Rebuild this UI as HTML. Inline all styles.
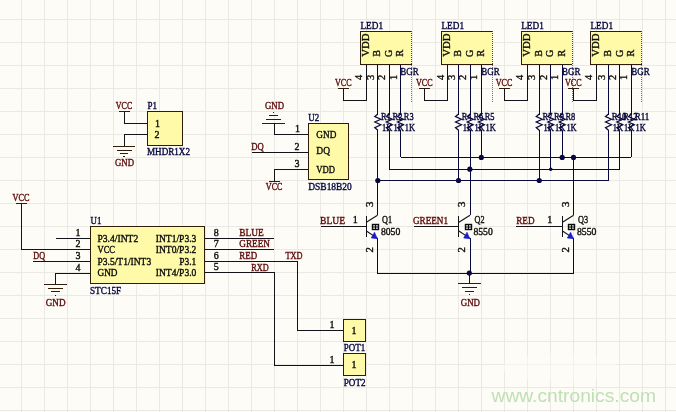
<!DOCTYPE html>
<html><head><meta charset="utf-8"><title>schematic</title>
<style>html,body{margin:0;padding:0;background:#fdfcf6;overflow:hidden}svg{display:block;will-change:transform;font-family:"Liberation Serif",serif}</style>
</head><body>
<svg width="676" height="412" viewBox="0 0 676 412">
<rect width="676" height="412" fill="#fdfcf6"/>
<g stroke="#ebe9e4" stroke-width="1">
<line x1="21.5" y1="0" x2="21.5" y2="412"/>
<line x1="44.5" y1="0" x2="44.5" y2="412"/>
<line x1="67.5" y1="0" x2="67.5" y2="412"/>
<line x1="90.5" y1="0" x2="90.5" y2="412"/>
<line x1="113.5" y1="0" x2="113.5" y2="412"/>
<line x1="136.5" y1="0" x2="136.5" y2="412"/>
<line x1="159.5" y1="0" x2="159.5" y2="412"/>
<line x1="182.5" y1="0" x2="182.5" y2="412"/>
<line x1="205.5" y1="0" x2="205.5" y2="412"/>
<line x1="228.5" y1="0" x2="228.5" y2="412"/>
<line x1="251.5" y1="0" x2="251.5" y2="412"/>
<line x1="274.5" y1="0" x2="274.5" y2="412"/>
<line x1="297.5" y1="0" x2="297.5" y2="412"/>
<line x1="320.5" y1="0" x2="320.5" y2="412"/>
<line x1="343.5" y1="0" x2="343.5" y2="412"/>
<line x1="366.5" y1="0" x2="366.5" y2="412"/>
<line x1="389.5" y1="0" x2="389.5" y2="412"/>
<line x1="412.5" y1="0" x2="412.5" y2="412"/>
<line x1="435.5" y1="0" x2="435.5" y2="412"/>
<line x1="458.5" y1="0" x2="458.5" y2="412"/>
<line x1="481.5" y1="0" x2="481.5" y2="412"/>
<line x1="504.5" y1="0" x2="504.5" y2="412"/>
<line x1="527.5" y1="0" x2="527.5" y2="412"/>
<line x1="550.5" y1="0" x2="550.5" y2="412"/>
<line x1="573.5" y1="0" x2="573.5" y2="412"/>
<line x1="596.5" y1="0" x2="596.5" y2="412"/>
<line x1="619.5" y1="0" x2="619.5" y2="412"/>
<line x1="642.5" y1="0" x2="642.5" y2="412"/>
<line x1="665.5" y1="0" x2="665.5" y2="412"/>
<line x1="0" y1="19.5" x2="676" y2="19.5"/>
<line x1="0" y1="42.5" x2="676" y2="42.5"/>
<line x1="0" y1="65.5" x2="676" y2="65.5"/>
<line x1="0" y1="88.5" x2="676" y2="88.5"/>
<line x1="0" y1="111.5" x2="676" y2="111.5"/>
<line x1="0" y1="134.5" x2="676" y2="134.5"/>
<line x1="0" y1="157.5" x2="676" y2="157.5"/>
<line x1="0" y1="180.5" x2="676" y2="180.5"/>
<line x1="0" y1="203.5" x2="676" y2="203.5"/>
<line x1="0" y1="226.5" x2="676" y2="226.5"/>
<line x1="0" y1="249.5" x2="676" y2="249.5"/>
<line x1="0" y1="272.5" x2="676" y2="272.5"/>
<line x1="0" y1="295.5" x2="676" y2="295.5"/>
<line x1="0" y1="318.5" x2="676" y2="318.5"/>
<line x1="0" y1="341.5" x2="676" y2="341.5"/>
<line x1="0" y1="364.5" x2="676" y2="364.5"/>
<line x1="0" y1="387.5" x2="676" y2="387.5"/>
<line x1="0" y1="410.5" x2="676" y2="410.5"/>
</g>
<text x="491.5" y="402.3" font-family="Liberation Sans,sans-serif" font-size="19" fill="#bfe0b4" textLength="164.5" lengthAdjust="spacingAndGlyphs">www.cntronics.com</text>
<ellipse cx="560" cy="368" rx="58" ry="15" fill="#fdfcf6" opacity="0.45"/>
<text x="115.8" y="108.8" fill="#5c0a0a" stroke="#5c0a0a" stroke-width="0.36" font-size="10" text-anchor="start" textLength="16.4" lengthAdjust="spacingAndGlyphs">VCC</text>
<line x1="119.0" y1="111.5" x2="130.0" y2="111.5" stroke="#301c08" stroke-width="1" shape-rendering="crispEdges"/>
<polyline points="124.25,111.5 124.25,123 147,123" fill="none" stroke="#12121a" stroke-width="1" shape-rendering="crispEdges"/>
<polyline points="147,134.5 124.25,134.5 124.25,146" fill="none" stroke="#12121a" stroke-width="1" shape-rendering="crispEdges"/>
<line x1="113.05" y1="146" x2="135.45" y2="146" stroke="#301c08" stroke-width="1" shape-rendering="crispEdges"/>
<line x1="116.55" y1="150.2" x2="131.95" y2="150.2" stroke="#301c08" stroke-width="1" shape-rendering="crispEdges"/>
<line x1="120.05" y1="153.4" x2="128.45" y2="153.4" stroke="#301c08" stroke-width="1" shape-rendering="crispEdges"/>
<line x1="123.35" y1="156.8" x2="125.15" y2="156.8" stroke="#301c08" stroke-width="1" shape-rendering="crispEdges"/>
<text x="115" y="166.2" fill="#5c0a0a" stroke="#5c0a0a" stroke-width="0.36" font-size="10" text-anchor="start" textLength="19" lengthAdjust="spacingAndGlyphs">GND</text>
<rect x="147" y="111" width="35" height="34.5" fill="#fefaa8" stroke="#301c08" stroke-width="1" shape-rendering="crispEdges"/>
<text x="147.5" y="108.8" fill="#08083e" stroke="#08083e" stroke-width="0.36" font-size="10" text-anchor="start" textLength="9.5" lengthAdjust="spacingAndGlyphs">P1</text>
<text x="147" y="155" fill="#08083e" stroke="#08083e" stroke-width="0.36" font-size="10" text-anchor="start" textLength="43" lengthAdjust="spacingAndGlyphs">MHDR1X2</text>
<text x="155" y="126.5" fill="#0c0c0c" stroke="#0c0c0c" stroke-width="0.36" font-size="10" text-anchor="start">1</text>
<text x="154.5" y="138.2" fill="#0c0c0c" stroke="#0c0c0c" stroke-width="0.36" font-size="10" text-anchor="start">2</text>
<text x="265" y="109.3" fill="#5c0a0a" stroke="#5c0a0a" stroke-width="0.36" font-size="10" text-anchor="start" textLength="19" lengthAdjust="spacingAndGlyphs">GND</text>
<line x1="262.3" y1="123.25" x2="284.7" y2="123.25" stroke="#301c08" stroke-width="1" shape-rendering="crispEdges"/>
<line x1="265.8" y1="119.05" x2="281.2" y2="119.05" stroke="#301c08" stroke-width="1" shape-rendering="crispEdges"/>
<line x1="269.3" y1="115.85" x2="277.7" y2="115.85" stroke="#301c08" stroke-width="1" shape-rendering="crispEdges"/>
<line x1="272.6" y1="112.45" x2="274.4" y2="112.45" stroke="#301c08" stroke-width="1" shape-rendering="crispEdges"/>
<polyline points="274.5,123.25 274.5,134.25 308.25,134.25" fill="none" stroke="#12121a" stroke-width="1" shape-rendering="crispEdges"/>
<line x1="252" y1="152.5" x2="308.25" y2="152.5" stroke="#12121a" stroke-width="1" shape-rendering="crispEdges"/>
<text x="251.3" y="150.3" fill="#5c0a0a" stroke="#5c0a0a" stroke-width="0.36" font-size="10" text-anchor="start" textLength="12.5" lengthAdjust="spacingAndGlyphs">DQ</text>
<polyline points="308.25,169.5 274.5,169.5 274.5,181.25" fill="none" stroke="#12121a" stroke-width="1" shape-rendering="crispEdges"/>
<line x1="269.0" y1="181.25" x2="280.0" y2="181.25" stroke="#301c08" stroke-width="1" shape-rendering="crispEdges"/>
<text x="265.8" y="190.2" fill="#5c0a0a" stroke="#5c0a0a" stroke-width="0.36" font-size="10" text-anchor="start" textLength="16.6" lengthAdjust="spacingAndGlyphs">VCC</text>
<rect x="308.25" y="123.25" width="40.0" height="56.25" fill="#fefaa8" stroke="#301c08" stroke-width="1" shape-rendering="crispEdges"/>
<text x="308.3" y="120.8" fill="#08083e" stroke="#08083e" stroke-width="0.36" font-size="10" text-anchor="start" textLength="11" lengthAdjust="spacingAndGlyphs">U2</text>
<text x="308.3" y="190" fill="#08083e" stroke="#08083e" stroke-width="0.36" font-size="10" text-anchor="start" textLength="43.5" lengthAdjust="spacingAndGlyphs">DSB18B20</text>
<text x="295" y="131.8" fill="#0c0c0c" stroke="#0c0c0c" stroke-width="0.36" font-size="10" text-anchor="start">1</text>
<text x="294.5" y="150" fill="#0c0c0c" stroke="#0c0c0c" stroke-width="0.36" font-size="10" text-anchor="start">2</text>
<text x="294.5" y="166.8" fill="#0c0c0c" stroke="#0c0c0c" stroke-width="0.36" font-size="10" text-anchor="start">3</text>
<text x="316.3" y="138" fill="#0c0c0c" stroke="#0c0c0c" stroke-width="0.36" font-size="10" text-anchor="start" textLength="20" lengthAdjust="spacingAndGlyphs">GND</text>
<text x="316.3" y="154.3" fill="#0c0c0c" stroke="#0c0c0c" stroke-width="0.36" font-size="10" text-anchor="start" textLength="13.7" lengthAdjust="spacingAndGlyphs">DQ</text>
<text x="316.3" y="173" fill="#0c0c0c" stroke="#0c0c0c" stroke-width="0.36" font-size="10" text-anchor="start" textLength="18.7" lengthAdjust="spacingAndGlyphs">VDD</text>
<text x="12.5" y="200.7" fill="#5c0a0a" stroke="#5c0a0a" stroke-width="0.36" font-size="10" text-anchor="start" textLength="17" lengthAdjust="spacingAndGlyphs">VCC</text>
<line x1="15.5" y1="203.5" x2="26.5" y2="203.5" stroke="#301c08" stroke-width="1" shape-rendering="crispEdges"/>
<polyline points="21.25,203.5 21.25,249.5 90.5,249.5" fill="none" stroke="#12121a" stroke-width="1" shape-rendering="crispEdges"/>
<line x1="56.25" y1="238" x2="90.5" y2="238" stroke="#12121a" stroke-width="1" shape-rendering="crispEdges"/>
<line x1="33.25" y1="261" x2="90.5" y2="261" stroke="#12121a" stroke-width="1" shape-rendering="crispEdges"/>
<text x="33.3" y="259.4" fill="#5c0a0a" stroke="#5c0a0a" stroke-width="0.36" font-size="10" text-anchor="start" textLength="11.8" lengthAdjust="spacingAndGlyphs">DQ</text>
<polyline points="90.5,273.5 55.5,273.5 55.5,284.5" fill="none" stroke="#12121a" stroke-width="1" shape-rendering="crispEdges"/>
<line x1="44.3" y1="284.5" x2="66.7" y2="284.5" stroke="#301c08" stroke-width="1" shape-rendering="crispEdges"/>
<line x1="47.8" y1="288.7" x2="63.2" y2="288.7" stroke="#301c08" stroke-width="1" shape-rendering="crispEdges"/>
<line x1="51.3" y1="291.9" x2="59.7" y2="291.9" stroke="#301c08" stroke-width="1" shape-rendering="crispEdges"/>
<line x1="54.6" y1="295.3" x2="56.4" y2="295.3" stroke="#301c08" stroke-width="1" shape-rendering="crispEdges"/>
<text x="45.8" y="305.5" fill="#5c0a0a" stroke="#5c0a0a" stroke-width="0.36" font-size="10" text-anchor="start" textLength="19.7" lengthAdjust="spacingAndGlyphs">GND</text>
<rect x="90.5" y="226.5" width="114.0" height="57.0" fill="#fefaa8" stroke="#301c08" stroke-width="1" shape-rendering="crispEdges"/>
<text x="90.5" y="223.7" fill="#08083e" stroke="#08083e" stroke-width="0.36" font-size="10" text-anchor="start" textLength="10.8" lengthAdjust="spacingAndGlyphs">U1</text>
<text x="90" y="294.2" fill="#08083e" stroke="#08083e" stroke-width="0.36" font-size="10" text-anchor="start" textLength="31.2" lengthAdjust="spacingAndGlyphs">STC15F</text>
<text x="75.5" y="235.7" fill="#0c0c0c" stroke="#0c0c0c" stroke-width="0.36" font-size="10" text-anchor="start">1</text>
<text x="75.5" y="247.1" fill="#0c0c0c" stroke="#0c0c0c" stroke-width="0.36" font-size="10" text-anchor="start">2</text>
<text x="75.5" y="259" fill="#0c0c0c" stroke="#0c0c0c" stroke-width="0.36" font-size="10" text-anchor="start">3</text>
<text x="75.5" y="270.7" fill="#0c0c0c" stroke="#0c0c0c" stroke-width="0.36" font-size="10" text-anchor="start">4</text>
<text x="97.5" y="242" fill="#0c0c0c" stroke="#0c0c0c" stroke-width="0.36" font-size="10" text-anchor="start" textLength="40.7" lengthAdjust="spacingAndGlyphs">P3.4/INT2</text>
<text x="97.5" y="253.1" fill="#0c0c0c" stroke="#0c0c0c" stroke-width="0.36" font-size="10" text-anchor="start" textLength="17.5" lengthAdjust="spacingAndGlyphs">VCC</text>
<text x="97.5" y="265" fill="#0c0c0c" stroke="#0c0c0c" stroke-width="0.36" font-size="10" text-anchor="start" textLength="53.7" lengthAdjust="spacingAndGlyphs">P3.5/T1/INT3</text>
<text x="97.5" y="276.2" fill="#0c0c0c" stroke="#0c0c0c" stroke-width="0.36" font-size="10" text-anchor="start" textLength="20" lengthAdjust="spacingAndGlyphs">GND</text>
<text x="155.8" y="242" fill="#0c0c0c" stroke="#0c0c0c" stroke-width="0.36" font-size="10" text-anchor="start" textLength="40.5" lengthAdjust="spacingAndGlyphs">INT1/P3.3</text>
<text x="155.8" y="253.2" fill="#0c0c0c" stroke="#0c0c0c" stroke-width="0.36" font-size="10" text-anchor="start" textLength="40.5" lengthAdjust="spacingAndGlyphs">INT0/P3.2</text>
<text x="179.3" y="265" fill="#0c0c0c" stroke="#0c0c0c" stroke-width="0.36" font-size="10" text-anchor="start" textLength="17" lengthAdjust="spacingAndGlyphs">P3.1</text>
<text x="155.8" y="276.2" fill="#0c0c0c" stroke="#0c0c0c" stroke-width="0.36" font-size="10" text-anchor="start" textLength="40.5" lengthAdjust="spacingAndGlyphs">INT4/P3.0</text>
<line x1="204.5" y1="238.6" x2="273.75" y2="238.6" stroke="#12121a" stroke-width="1" shape-rendering="crispEdges"/>
<line x1="204.5" y1="249.4" x2="273.75" y2="249.4" stroke="#12121a" stroke-width="1" shape-rendering="crispEdges"/>
<polyline points="204.5,261 297.5,261 297.5,330.2 343.75,330.2" fill="none" stroke="#12121a" stroke-width="1" shape-rendering="crispEdges"/>
<polyline points="204.5,272.7 274.8,272.7 274.8,365.3 343.75,365.3" fill="none" stroke="#12121a" stroke-width="1" shape-rendering="crispEdges"/>
<text x="213.7" y="235.8" fill="#0c0c0c" stroke="#0c0c0c" stroke-width="0.36" font-size="10" text-anchor="start">8</text>
<text x="213.7" y="247.2" fill="#0c0c0c" stroke="#0c0c0c" stroke-width="0.36" font-size="10" text-anchor="start">7</text>
<text x="213.7" y="258.7" fill="#0c0c0c" stroke="#0c0c0c" stroke-width="0.36" font-size="10" text-anchor="start">6</text>
<text x="213.7" y="270.3" fill="#0c0c0c" stroke="#0c0c0c" stroke-width="0.36" font-size="10" text-anchor="start">5</text>
<text x="239.3" y="236" fill="#5c0a0a" stroke="#5c0a0a" stroke-width="0.36" font-size="10" text-anchor="start" textLength="24.5" lengthAdjust="spacingAndGlyphs">BLUE</text>
<text x="239.3" y="247.3" fill="#5c0a0a" stroke="#5c0a0a" stroke-width="0.36" font-size="10" text-anchor="start" textLength="30.7" lengthAdjust="spacingAndGlyphs">GREEN</text>
<text x="239.3" y="258.8" fill="#5c0a0a" stroke="#5c0a0a" stroke-width="0.36" font-size="10" text-anchor="start" textLength="17.8" lengthAdjust="spacingAndGlyphs">RED</text>
<text x="251.3" y="270.7" fill="#5c0a0a" stroke="#5c0a0a" stroke-width="0.36" font-size="10" text-anchor="start" textLength="17.5" lengthAdjust="spacingAndGlyphs">RXD</text>
<text x="285.5" y="259.2" fill="#5c0a0a" stroke="#5c0a0a" stroke-width="0.36" font-size="10" text-anchor="start" textLength="17" lengthAdjust="spacingAndGlyphs">TXD</text>
<rect x="343.75" y="319.5" width="22.0" height="22.0" fill="#fefaa8" stroke="#301c08" stroke-width="1" shape-rendering="crispEdges"/>
<rect x="343.75" y="353.5" width="22.0" height="21.75" fill="#fefaa8" stroke="#301c08" stroke-width="1" shape-rendering="crispEdges"/>
<text x="351.5" y="333.7" fill="#0c0c0c" stroke="#0c0c0c" stroke-width="0.36" font-size="10" text-anchor="start">1</text>
<text x="351.5" y="368.2" fill="#0c0c0c" stroke="#0c0c0c" stroke-width="0.36" font-size="10" text-anchor="start">1</text>
<text x="329.5" y="327.5" fill="#0c0c0c" stroke="#0c0c0c" stroke-width="0.36" font-size="10" text-anchor="start">1</text>
<text x="329.5" y="362.7" fill="#0c0c0c" stroke="#0c0c0c" stroke-width="0.36" font-size="10" text-anchor="start">1</text>
<text x="343.8" y="351" fill="#08083e" stroke="#08083e" stroke-width="0.36" font-size="10" text-anchor="start" textLength="21.3" lengthAdjust="spacingAndGlyphs">POT1</text>
<text x="343.8" y="386" fill="#08083e" stroke="#08083e" stroke-width="0.36" font-size="10" text-anchor="start" textLength="21.8" lengthAdjust="spacingAndGlyphs">POT2</text>
<line x1="377.8" y1="64.5" x2="377.8" y2="114.5" stroke="#08083e" stroke-width="1" shape-rendering="crispEdges"/>
<polyline points="377.8,114 374.8,116.5 380.8,119.2 374.8,122 380.8,124.8 374.8,127.6 377.8,130.3" fill="none" stroke="#08083e" stroke-width="1.25"/>
<line x1="377.8" y1="130" x2="377.8" y2="180.5" stroke="#08083e" stroke-width="1" shape-rendering="crispEdges"/>
<line x1="389.3" y1="64.5" x2="389.3" y2="114.5" stroke="#08083e" stroke-width="1" shape-rendering="crispEdges"/>
<polyline points="389.3,114 386.3,116.5 392.3,119.2 386.3,122 392.3,124.8 386.3,127.6 389.3,130.3" fill="none" stroke="#08083e" stroke-width="1.25"/>
<line x1="389.3" y1="130" x2="389.3" y2="169.2" stroke="#08083e" stroke-width="1" shape-rendering="crispEdges"/>
<line x1="400.5" y1="64.5" x2="400.5" y2="114.5" stroke="#08083e" stroke-width="1" shape-rendering="crispEdges"/>
<polyline points="400.5,114 397.5,116.5 403.5,119.2 397.5,122 403.5,124.8 397.5,127.6 400.5,130.3" fill="none" stroke="#08083e" stroke-width="1.25"/>
<line x1="400.5" y1="130" x2="400.5" y2="157.4" stroke="#08083e" stroke-width="1" shape-rendering="crispEdges"/>
<polyline points="366.2,64.5 366.2,100.2 343.5,100.2 343.5,88.6" fill="none" stroke="#12121a" stroke-width="1" shape-rendering="crispEdges"/>
<line x1="338.0" y1="88.6" x2="349.0" y2="88.6" stroke="#301c08" stroke-width="1" shape-rendering="crispEdges"/>
<text x="335.0" y="85.7" fill="#5c0a0a" stroke="#5c0a0a" stroke-width="0.36" font-size="10" text-anchor="start" textLength="16.6" lengthAdjust="spacingAndGlyphs">VCC</text>
<line x1="411.5" y1="31" x2="411.5" y2="103" stroke="#b0602c" stroke-width="1" stroke-dasharray="1,1" shape-rendering="crispEdges"/>
<rect x="360.5" y="31.5" width="51" height="33" fill="#fefaa8"/>
<polyline points="411.5,31.5 360.5,31.5 360.5,64.5 411.5,64.5" fill="none" stroke="#301c08" stroke-width="1" shape-rendering="crispEdges"/>
<line x1="411.5" y1="31" x2="411.5" y2="65" stroke="#7a3c10" stroke-width="1" stroke-dasharray="1,1" shape-rendering="crispEdges"/>
<text x="360.5" y="28.7" fill="#08083e" stroke="#08083e" stroke-width="0.36" font-size="10" text-anchor="start" textLength="22.5" lengthAdjust="spacingAndGlyphs">LED1</text>
<text transform="translate(369.0,56.8) rotate(-90)" fill="#0c0c0c" stroke="#0c0c0c" stroke-width="0.36" font-size="11.2" textLength="23.3" lengthAdjust="spacingAndGlyphs">VDD</text>
<text transform="translate(380.1,56.8) rotate(-90)" fill="#0c0c0c" stroke="#0c0c0c" stroke-width="0.36" font-size="11.2" textLength="6.8" lengthAdjust="spacingAndGlyphs">B</text>
<text transform="translate(392.0,57) rotate(-90)" fill="#0c0c0c" stroke="#0c0c0c" stroke-width="0.36" font-size="11.2" textLength="7.2" lengthAdjust="spacingAndGlyphs">G</text>
<text transform="translate(403.0,56.8) rotate(-90)" fill="#0c0c0c" stroke="#0c0c0c" stroke-width="0.36" font-size="11.2" textLength="7" lengthAdjust="spacingAndGlyphs">R</text>
<text transform="translate(362.2,80) rotate(-90)" fill="#0c0c0c" stroke="#0c0c0c" stroke-width="0.36" font-size="11" textLength="5.2" lengthAdjust="spacingAndGlyphs">4</text>
<text transform="translate(373.8,80) rotate(-90)" fill="#0c0c0c" stroke="#0c0c0c" stroke-width="0.36" font-size="11" textLength="5.2" lengthAdjust="spacingAndGlyphs">3</text>
<text transform="translate(385.3,80) rotate(-90)" fill="#0c0c0c" stroke="#0c0c0c" stroke-width="0.36" font-size="11" textLength="5.2" lengthAdjust="spacingAndGlyphs">2</text>
<text transform="translate(396.5,80) rotate(-90)" fill="#0c0c0c" stroke="#0c0c0c" stroke-width="0.36" font-size="11" textLength="5.2" lengthAdjust="spacingAndGlyphs">1</text>
<text x="400.3" y="74.8" fill="#08083e" stroke="#08083e" stroke-width="0.36" font-size="10" text-anchor="start" textLength="18.5" lengthAdjust="spacingAndGlyphs">BGR</text>
<text x="381.1" y="120" fill="#08083e" stroke="#08083e" stroke-width="0.4" font-size="10.5" text-anchor="start" textLength="9.8" lengthAdjust="spacingAndGlyphs">R1</text>
<text x="382.0" y="131" fill="#08083e" stroke="#08083e" stroke-width="0.4" font-size="10.5" text-anchor="start" textLength="10.3" lengthAdjust="spacingAndGlyphs">1K</text>
<text x="392.6" y="120" fill="#08083e" stroke="#08083e" stroke-width="0.4" font-size="10.5" text-anchor="start" textLength="9.8" lengthAdjust="spacingAndGlyphs">R2</text>
<text x="393.5" y="131" fill="#08083e" stroke="#08083e" stroke-width="0.4" font-size="10.5" text-anchor="start" textLength="10.3" lengthAdjust="spacingAndGlyphs">1K</text>
<text x="403.8" y="120" fill="#08083e" stroke="#08083e" stroke-width="0.4" font-size="10.5" text-anchor="start" textLength="9.8" lengthAdjust="spacingAndGlyphs">R3</text>
<text x="404.7" y="131" fill="#08083e" stroke="#08083e" stroke-width="0.4" font-size="10.5" text-anchor="start" textLength="10.3" lengthAdjust="spacingAndGlyphs">1K</text>
<line x1="458.5" y1="64.5" x2="458.5" y2="114.5" stroke="#08083e" stroke-width="1" shape-rendering="crispEdges"/>
<polyline points="458.5,114 455.5,116.5 461.5,119.2 455.5,122 461.5,124.8 455.5,127.6 458.5,130.3" fill="none" stroke="#08083e" stroke-width="1.25"/>
<line x1="458.5" y1="130" x2="458.5" y2="180.5" stroke="#08083e" stroke-width="1" shape-rendering="crispEdges"/>
<line x1="470.2" y1="64.5" x2="470.2" y2="114.5" stroke="#08083e" stroke-width="1" shape-rendering="crispEdges"/>
<polyline points="470.2,114 467.2,116.5 473.2,119.2 467.2,122 473.2,124.8 467.2,127.6 470.2,130.3" fill="none" stroke="#08083e" stroke-width="1.25"/>
<line x1="470.2" y1="130" x2="470.2" y2="169.2" stroke="#08083e" stroke-width="1" shape-rendering="crispEdges"/>
<line x1="481.4" y1="64.5" x2="481.4" y2="114.5" stroke="#08083e" stroke-width="1" shape-rendering="crispEdges"/>
<polyline points="481.4,114 478.4,116.5 484.4,119.2 478.4,122 484.4,124.8 478.4,127.6 481.4,130.3" fill="none" stroke="#08083e" stroke-width="1.25"/>
<line x1="481.4" y1="130" x2="481.4" y2="157.4" stroke="#08083e" stroke-width="1" shape-rendering="crispEdges"/>
<polyline points="447.5,64.5 447.5,100.2 424.5,100.2 424.5,88.6" fill="none" stroke="#12121a" stroke-width="1" shape-rendering="crispEdges"/>
<line x1="419.0" y1="88.6" x2="430.0" y2="88.6" stroke="#301c08" stroke-width="1" shape-rendering="crispEdges"/>
<text x="416.0" y="85.7" fill="#5c0a0a" stroke="#5c0a0a" stroke-width="0.36" font-size="10" text-anchor="start" textLength="16.6" lengthAdjust="spacingAndGlyphs">VCC</text>
<line x1="492.5" y1="31" x2="492.5" y2="103" stroke="#b0602c" stroke-width="1" stroke-dasharray="1,1" shape-rendering="crispEdges"/>
<rect x="441.5" y="31.5" width="51" height="33" fill="#fefaa8"/>
<polyline points="492.5,31.5 441.5,31.5 441.5,64.5 492.5,64.5" fill="none" stroke="#301c08" stroke-width="1" shape-rendering="crispEdges"/>
<line x1="492.5" y1="31" x2="492.5" y2="65" stroke="#7a3c10" stroke-width="1" stroke-dasharray="1,1" shape-rendering="crispEdges"/>
<text x="441.5" y="28.7" fill="#08083e" stroke="#08083e" stroke-width="0.36" font-size="10" text-anchor="start" textLength="22.5" lengthAdjust="spacingAndGlyphs">LED1</text>
<text transform="translate(450.3,56.8) rotate(-90)" fill="#0c0c0c" stroke="#0c0c0c" stroke-width="0.36" font-size="11.2" textLength="23.3" lengthAdjust="spacingAndGlyphs">VDD</text>
<text transform="translate(460.8,56.8) rotate(-90)" fill="#0c0c0c" stroke="#0c0c0c" stroke-width="0.36" font-size="11.2" textLength="6.8" lengthAdjust="spacingAndGlyphs">B</text>
<text transform="translate(472.9,57) rotate(-90)" fill="#0c0c0c" stroke="#0c0c0c" stroke-width="0.36" font-size="11.2" textLength="7.2" lengthAdjust="spacingAndGlyphs">G</text>
<text transform="translate(483.9,56.8) rotate(-90)" fill="#0c0c0c" stroke="#0c0c0c" stroke-width="0.36" font-size="11.2" textLength="7" lengthAdjust="spacingAndGlyphs">R</text>
<text transform="translate(443.5,80) rotate(-90)" fill="#0c0c0c" stroke="#0c0c0c" stroke-width="0.36" font-size="11" textLength="5.2" lengthAdjust="spacingAndGlyphs">4</text>
<text transform="translate(454.5,80) rotate(-90)" fill="#0c0c0c" stroke="#0c0c0c" stroke-width="0.36" font-size="11" textLength="5.2" lengthAdjust="spacingAndGlyphs">3</text>
<text transform="translate(466.2,80) rotate(-90)" fill="#0c0c0c" stroke="#0c0c0c" stroke-width="0.36" font-size="11" textLength="5.2" lengthAdjust="spacingAndGlyphs">2</text>
<text transform="translate(477.4,80) rotate(-90)" fill="#0c0c0c" stroke="#0c0c0c" stroke-width="0.36" font-size="11" textLength="5.2" lengthAdjust="spacingAndGlyphs">1</text>
<text x="481.2" y="74.8" fill="#08083e" stroke="#08083e" stroke-width="0.36" font-size="10" text-anchor="start" textLength="18.5" lengthAdjust="spacingAndGlyphs">BGR</text>
<text x="461.8" y="120" fill="#08083e" stroke="#08083e" stroke-width="0.4" font-size="10.5" text-anchor="start" textLength="9.8" lengthAdjust="spacingAndGlyphs">R4</text>
<text x="462.7" y="131" fill="#08083e" stroke="#08083e" stroke-width="0.4" font-size="10.5" text-anchor="start" textLength="10.3" lengthAdjust="spacingAndGlyphs">1K</text>
<text x="473.5" y="120" fill="#08083e" stroke="#08083e" stroke-width="0.4" font-size="10.5" text-anchor="start" textLength="9.8" lengthAdjust="spacingAndGlyphs">R6</text>
<text x="474.4" y="131" fill="#08083e" stroke="#08083e" stroke-width="0.4" font-size="10.5" text-anchor="start" textLength="10.3" lengthAdjust="spacingAndGlyphs">1K</text>
<text x="484.7" y="120" fill="#08083e" stroke="#08083e" stroke-width="0.4" font-size="10.5" text-anchor="start" textLength="9.8" lengthAdjust="spacingAndGlyphs">R5</text>
<text x="485.59999999999997" y="131" fill="#08083e" stroke="#08083e" stroke-width="0.4" font-size="10.5" text-anchor="start" textLength="10.3" lengthAdjust="spacingAndGlyphs">1K</text>
<line x1="539.25" y1="64.5" x2="539.25" y2="114.5" stroke="#08083e" stroke-width="1" shape-rendering="crispEdges"/>
<polyline points="539.25,114 536.25,116.5 542.25,119.2 536.25,122 542.25,124.8 536.25,127.6 539.25,130.3" fill="none" stroke="#08083e" stroke-width="1.25"/>
<line x1="539.25" y1="130" x2="539.25" y2="180.5" stroke="#08083e" stroke-width="1" shape-rendering="crispEdges"/>
<line x1="550.75" y1="64.5" x2="550.75" y2="114.5" stroke="#08083e" stroke-width="1" shape-rendering="crispEdges"/>
<polyline points="550.75,114 547.75,116.5 553.75,119.2 547.75,122 553.75,124.8 547.75,127.6 550.75,130.3" fill="none" stroke="#08083e" stroke-width="1.25"/>
<line x1="550.75" y1="130" x2="550.75" y2="169.2" stroke="#08083e" stroke-width="1" shape-rendering="crispEdges"/>
<line x1="562.2" y1="64.5" x2="562.2" y2="114.5" stroke="#08083e" stroke-width="1" shape-rendering="crispEdges"/>
<polyline points="562.2,114 559.2,116.5 565.2,119.2 559.2,122 565.2,124.8 559.2,127.6 562.2,130.3" fill="none" stroke="#08083e" stroke-width="1.25"/>
<line x1="562.2" y1="130" x2="562.2" y2="157.4" stroke="#08083e" stroke-width="1" shape-rendering="crispEdges"/>
<polyline points="527,64.5 527,100.2 504.25,100.2 504.25,88.6" fill="none" stroke="#12121a" stroke-width="1" shape-rendering="crispEdges"/>
<line x1="498.75" y1="88.6" x2="509.75" y2="88.6" stroke="#301c08" stroke-width="1" shape-rendering="crispEdges"/>
<text x="495.75" y="85.7" fill="#5c0a0a" stroke="#5c0a0a" stroke-width="0.36" font-size="10" text-anchor="start" textLength="16.6" lengthAdjust="spacingAndGlyphs">VCC</text>
<line x1="572.5" y1="31" x2="572.5" y2="103" stroke="#b0602c" stroke-width="1" stroke-dasharray="1,1" shape-rendering="crispEdges"/>
<rect x="521.25" y="31.5" width="51" height="33" fill="#fefaa8"/>
<polyline points="572.25,31.5 521.25,31.5 521.25,64.5 572.25,64.5" fill="none" stroke="#301c08" stroke-width="1" shape-rendering="crispEdges"/>
<line x1="572.5" y1="31" x2="572.5" y2="65" stroke="#7a3c10" stroke-width="1" stroke-dasharray="1,1" shape-rendering="crispEdges"/>
<text x="521.25" y="28.7" fill="#08083e" stroke="#08083e" stroke-width="0.36" font-size="10" text-anchor="start" textLength="22.5" lengthAdjust="spacingAndGlyphs">LED1</text>
<text transform="translate(529.8,56.8) rotate(-90)" fill="#0c0c0c" stroke="#0c0c0c" stroke-width="0.36" font-size="11.2" textLength="23.3" lengthAdjust="spacingAndGlyphs">VDD</text>
<text transform="translate(541.55,56.8) rotate(-90)" fill="#0c0c0c" stroke="#0c0c0c" stroke-width="0.36" font-size="11.2" textLength="6.8" lengthAdjust="spacingAndGlyphs">B</text>
<text transform="translate(553.45,57) rotate(-90)" fill="#0c0c0c" stroke="#0c0c0c" stroke-width="0.36" font-size="11.2" textLength="7.2" lengthAdjust="spacingAndGlyphs">G</text>
<text transform="translate(564.7,56.8) rotate(-90)" fill="#0c0c0c" stroke="#0c0c0c" stroke-width="0.36" font-size="11.2" textLength="7" lengthAdjust="spacingAndGlyphs">R</text>
<text transform="translate(523,80) rotate(-90)" fill="#0c0c0c" stroke="#0c0c0c" stroke-width="0.36" font-size="11" textLength="5.2" lengthAdjust="spacingAndGlyphs">4</text>
<text transform="translate(535.25,80) rotate(-90)" fill="#0c0c0c" stroke="#0c0c0c" stroke-width="0.36" font-size="11" textLength="5.2" lengthAdjust="spacingAndGlyphs">3</text>
<text transform="translate(546.75,80) rotate(-90)" fill="#0c0c0c" stroke="#0c0c0c" stroke-width="0.36" font-size="11" textLength="5.2" lengthAdjust="spacingAndGlyphs">2</text>
<text transform="translate(558.2,80) rotate(-90)" fill="#0c0c0c" stroke="#0c0c0c" stroke-width="0.36" font-size="11" textLength="5.2" lengthAdjust="spacingAndGlyphs">1</text>
<text x="562.0" y="74.8" fill="#08083e" stroke="#08083e" stroke-width="0.36" font-size="10" text-anchor="start" textLength="18.5" lengthAdjust="spacingAndGlyphs">BGR</text>
<text x="542.55" y="120" fill="#08083e" stroke="#08083e" stroke-width="0.4" font-size="10.5" text-anchor="start" textLength="9.8" lengthAdjust="spacingAndGlyphs">R7</text>
<text x="543.45" y="131" fill="#08083e" stroke="#08083e" stroke-width="0.4" font-size="10.5" text-anchor="start" textLength="10.3" lengthAdjust="spacingAndGlyphs">1K</text>
<text x="554.05" y="120" fill="#08083e" stroke="#08083e" stroke-width="0.4" font-size="10.5" text-anchor="start" textLength="9.8" lengthAdjust="spacingAndGlyphs">R9</text>
<text x="554.95" y="131" fill="#08083e" stroke="#08083e" stroke-width="0.4" font-size="10.5" text-anchor="start" textLength="10.3" lengthAdjust="spacingAndGlyphs">1K</text>
<text x="565.5" y="120" fill="#08083e" stroke="#08083e" stroke-width="0.4" font-size="10.5" text-anchor="start" textLength="9.8" lengthAdjust="spacingAndGlyphs">R8</text>
<text x="566.4000000000001" y="131" fill="#08083e" stroke="#08083e" stroke-width="0.4" font-size="10.5" text-anchor="start" textLength="10.3" lengthAdjust="spacingAndGlyphs">1K</text>
<line x1="608.5" y1="64.5" x2="608.5" y2="114.5" stroke="#08083e" stroke-width="1" shape-rendering="crispEdges"/>
<polyline points="608.5,114 605.5,116.5 611.5,119.2 605.5,122 611.5,124.8 605.5,127.6 608.5,130.3" fill="none" stroke="#08083e" stroke-width="1.25"/>
<line x1="608.5" y1="130" x2="608.5" y2="180.5" stroke="#08083e" stroke-width="1" shape-rendering="crispEdges"/>
<line x1="619.8" y1="64.5" x2="619.8" y2="114.5" stroke="#08083e" stroke-width="1" shape-rendering="crispEdges"/>
<polyline points="619.8,114 616.8,116.5 622.8,119.2 616.8,122 622.8,124.8 616.8,127.6 619.8,130.3" fill="none" stroke="#08083e" stroke-width="1.25"/>
<line x1="619.8" y1="130" x2="619.8" y2="169.2" stroke="#08083e" stroke-width="1" shape-rendering="crispEdges"/>
<line x1="631.4" y1="64.5" x2="631.4" y2="114.5" stroke="#08083e" stroke-width="1" shape-rendering="crispEdges"/>
<polyline points="631.4,114 628.4,116.5 634.4,119.2 628.4,122 634.4,124.8 628.4,127.6 631.4,130.3" fill="none" stroke="#08083e" stroke-width="1.25"/>
<line x1="631.4" y1="130" x2="631.4" y2="157.4" stroke="#08083e" stroke-width="1" shape-rendering="crispEdges"/>
<polyline points="596.25,64.5 596.25,100.2 573.5,100.2 573.5,88.6" fill="none" stroke="#12121a" stroke-width="1" shape-rendering="crispEdges"/>
<line x1="568.0" y1="88.6" x2="579.0" y2="88.6" stroke="#301c08" stroke-width="1" shape-rendering="crispEdges"/>
<text x="565.0" y="85.7" fill="#5c0a0a" stroke="#5c0a0a" stroke-width="0.36" font-size="10" text-anchor="start" textLength="16.6" lengthAdjust="spacingAndGlyphs">VCC</text>
<line x1="641.5" y1="31" x2="641.5" y2="103" stroke="#b0602c" stroke-width="1" stroke-dasharray="1,1" shape-rendering="crispEdges"/>
<rect x="590.5" y="31.5" width="51" height="33" fill="#fefaa8"/>
<polyline points="641.5,31.5 590.5,31.5 590.5,64.5 641.5,64.5" fill="none" stroke="#301c08" stroke-width="1" shape-rendering="crispEdges"/>
<line x1="641.5" y1="31" x2="641.5" y2="65" stroke="#7a3c10" stroke-width="1" stroke-dasharray="1,1" shape-rendering="crispEdges"/>
<text x="590.5" y="28.7" fill="#08083e" stroke="#08083e" stroke-width="0.36" font-size="10" text-anchor="start" textLength="22.5" lengthAdjust="spacingAndGlyphs">LED1</text>
<text transform="translate(599.05,56.8) rotate(-90)" fill="#0c0c0c" stroke="#0c0c0c" stroke-width="0.36" font-size="11.2" textLength="23.3" lengthAdjust="spacingAndGlyphs">VDD</text>
<text transform="translate(610.8,56.8) rotate(-90)" fill="#0c0c0c" stroke="#0c0c0c" stroke-width="0.36" font-size="11.2" textLength="6.8" lengthAdjust="spacingAndGlyphs">B</text>
<text transform="translate(622.5,57) rotate(-90)" fill="#0c0c0c" stroke="#0c0c0c" stroke-width="0.36" font-size="11.2" textLength="7.2" lengthAdjust="spacingAndGlyphs">G</text>
<text transform="translate(633.9,56.8) rotate(-90)" fill="#0c0c0c" stroke="#0c0c0c" stroke-width="0.36" font-size="11.2" textLength="7" lengthAdjust="spacingAndGlyphs">R</text>
<text transform="translate(592.25,80) rotate(-90)" fill="#0c0c0c" stroke="#0c0c0c" stroke-width="0.36" font-size="11" textLength="5.2" lengthAdjust="spacingAndGlyphs">4</text>
<text transform="translate(604.5,80) rotate(-90)" fill="#0c0c0c" stroke="#0c0c0c" stroke-width="0.36" font-size="11" textLength="5.2" lengthAdjust="spacingAndGlyphs">3</text>
<text transform="translate(615.8,80) rotate(-90)" fill="#0c0c0c" stroke="#0c0c0c" stroke-width="0.36" font-size="11" textLength="5.2" lengthAdjust="spacingAndGlyphs">2</text>
<text transform="translate(627.4,80) rotate(-90)" fill="#0c0c0c" stroke="#0c0c0c" stroke-width="0.36" font-size="11" textLength="5.2" lengthAdjust="spacingAndGlyphs">1</text>
<text x="631.1999999999999" y="74.8" fill="#08083e" stroke="#08083e" stroke-width="0.36" font-size="10" text-anchor="start" textLength="18.5" lengthAdjust="spacingAndGlyphs">BGR</text>
<text x="611.8" y="120" fill="#08083e" stroke="#08083e" stroke-width="0.4" font-size="10.5" text-anchor="start" textLength="14.6" lengthAdjust="spacingAndGlyphs">R10</text>
<text x="612.7" y="131" fill="#08083e" stroke="#08083e" stroke-width="0.4" font-size="10.5" text-anchor="start" textLength="10.3" lengthAdjust="spacingAndGlyphs">1K</text>
<text x="623.0999999999999" y="120" fill="#08083e" stroke="#08083e" stroke-width="0.4" font-size="10.5" text-anchor="start" textLength="14.6" lengthAdjust="spacingAndGlyphs">R12</text>
<text x="624.0" y="131" fill="#08083e" stroke="#08083e" stroke-width="0.4" font-size="10.5" text-anchor="start" textLength="10.3" lengthAdjust="spacingAndGlyphs">1K</text>
<text x="634.6999999999999" y="120" fill="#08083e" stroke="#08083e" stroke-width="0.4" font-size="10.5" text-anchor="start" textLength="14.6" lengthAdjust="spacingAndGlyphs">R11</text>
<text x="635.6" y="131" fill="#08083e" stroke="#08083e" stroke-width="0.4" font-size="10.5" text-anchor="start" textLength="10.3" lengthAdjust="spacingAndGlyphs">1K</text>
<line x1="400.5" y1="157.4" x2="631.4" y2="157.4" stroke="#08083e" stroke-width="1" shape-rendering="crispEdges"/>
<line x1="389.3" y1="169.2" x2="619.8" y2="169.2" stroke="#08083e" stroke-width="1" shape-rendering="crispEdges"/>
<line x1="377.8" y1="180.5" x2="608.5" y2="180.5" stroke="#08083e" stroke-width="1" shape-rendering="crispEdges"/>
<circle cx="481.3" cy="157.4" r="2.6" fill="#08083e"/>
<circle cx="562.2" cy="157.4" r="2.6" fill="#08083e"/>
<circle cx="573.5" cy="157.4" r="2.6" fill="#08083e"/>
<circle cx="469.8" cy="169.2" r="2.6" fill="#08083e"/>
<circle cx="377.8" cy="180.5" r="2.6" fill="#08083e"/>
<circle cx="458.5" cy="180.5" r="2.6" fill="#08083e"/>
<circle cx="539.25" cy="180.5" r="2.6" fill="#08083e"/>
<circle cx="550.75" cy="169.2" r="1.8" fill="#08083e"/>
<line x1="377.5" y1="180.5" x2="377.5" y2="215.3" stroke="#08083e" stroke-width="1" shape-rendering="crispEdges"/>
<line x1="377.5" y1="215.3" x2="366.4" y2="222.2" stroke="#12121a" stroke-width="1.1"/>
<line x1="366.4" y1="215.6" x2="366.4" y2="236.8" stroke="#12121a" stroke-width="1" shape-rendering="crispEdges"/>
<line x1="321" y1="226.4" x2="366.4" y2="226.4" stroke="#12121a" stroke-width="1" shape-rendering="crispEdges"/>
<line x1="366.4" y1="231" x2="377.5" y2="238.4" stroke="#12121a" stroke-width="1.1"/>
<line x1="377.5" y1="238" x2="377.5" y2="273" stroke="#08083e" stroke-width="1" shape-rendering="crispEdges"/>
<polygon points="377.3,238.7 371.2,238.0 374.5,232.2" fill="#1a1ad0" stroke="#1a1ad0" stroke-width="0.6" stroke-linejoin="round"/>
<rect x="372.5" y="224.5" width="6" height="5" fill="none" stroke="#0c0c0c" stroke-width="1.4"/>
<path d="M372.5 227H378.5M375.5 224.5V229.5" stroke="#0c0c0c" stroke-width="1.2" fill="none"/>
<text x="382.0" y="223" fill="#0c0c0c" stroke="#0c0c0c" stroke-width="0.36" font-size="10" text-anchor="start" textLength="10" lengthAdjust="spacingAndGlyphs">Q1</text>
<text x="380.9" y="234.5" fill="#0c0c0c" stroke="#0c0c0c" stroke-width="0.36" font-size="10" text-anchor="start" textLength="19.4" lengthAdjust="spacingAndGlyphs">8050</text>
<text x="320" y="223.6" fill="#5c0a0a" stroke="#5c0a0a" stroke-width="0.36" font-size="10" text-anchor="start" textLength="25" lengthAdjust="spacingAndGlyphs">BLUE</text>
<text x="352.7" y="223.4" fill="#0c0c0c" stroke="#0c0c0c" stroke-width="0.36" font-size="10" text-anchor="start">1</text>
<text transform="translate(372.9,207) rotate(-90)" fill="#0c0c0c" stroke="#0c0c0c" stroke-width="0.36" font-size="11" textLength="5.4" lengthAdjust="spacingAndGlyphs">3</text>
<text transform="translate(372.9,252.6) rotate(-90)" fill="#0c0c0c" stroke="#0c0c0c" stroke-width="0.36" font-size="11" textLength="5.4" lengthAdjust="spacingAndGlyphs">2</text>
<line x1="470" y1="169.2" x2="470" y2="215.3" stroke="#08083e" stroke-width="1" shape-rendering="crispEdges"/>
<line x1="470" y1="215.3" x2="458.9" y2="222.2" stroke="#12121a" stroke-width="1.1"/>
<line x1="458.9" y1="215.6" x2="458.9" y2="236.8" stroke="#12121a" stroke-width="1" shape-rendering="crispEdges"/>
<line x1="413.75" y1="226.4" x2="458.9" y2="226.4" stroke="#12121a" stroke-width="1" shape-rendering="crispEdges"/>
<line x1="458.9" y1="231" x2="470" y2="238.4" stroke="#12121a" stroke-width="1.1"/>
<line x1="470" y1="238" x2="470" y2="273" stroke="#08083e" stroke-width="1" shape-rendering="crispEdges"/>
<polygon points="469.8,238.7 463.7,238.0 467.0,232.2" fill="#1a1ad0" stroke="#1a1ad0" stroke-width="0.6" stroke-linejoin="round"/>
<rect x="465.5" y="224.5" width="6" height="5" fill="none" stroke="#0c0c0c" stroke-width="1.4"/>
<path d="M465.5 227H471.5M468.5 224.5V229.5" stroke="#0c0c0c" stroke-width="1.2" fill="none"/>
<text x="474.5" y="223" fill="#0c0c0c" stroke="#0c0c0c" stroke-width="0.36" font-size="10" text-anchor="start" textLength="10" lengthAdjust="spacingAndGlyphs">Q2</text>
<text x="473.4" y="234.5" fill="#0c0c0c" stroke="#0c0c0c" stroke-width="0.36" font-size="10" text-anchor="start" textLength="19.4" lengthAdjust="spacingAndGlyphs">8550</text>
<text x="413" y="223.6" fill="#5c0a0a" stroke="#5c0a0a" stroke-width="0.36" font-size="10" text-anchor="start" textLength="35" lengthAdjust="spacingAndGlyphs">GREEN1</text>
<text transform="translate(465.4,207) rotate(-90)" fill="#0c0c0c" stroke="#0c0c0c" stroke-width="0.36" font-size="11" textLength="5.4" lengthAdjust="spacingAndGlyphs">3</text>
<text transform="translate(465.4,252.6) rotate(-90)" fill="#0c0c0c" stroke="#0c0c0c" stroke-width="0.36" font-size="11" textLength="5.4" lengthAdjust="spacingAndGlyphs">2</text>
<line x1="573.6" y1="157.4" x2="573.6" y2="215.3" stroke="#08083e" stroke-width="1" shape-rendering="crispEdges"/>
<line x1="573.6" y1="215.3" x2="562.5" y2="222.2" stroke="#12121a" stroke-width="1.1"/>
<line x1="562.5" y1="215.6" x2="562.5" y2="236.8" stroke="#12121a" stroke-width="1" shape-rendering="crispEdges"/>
<line x1="516.25" y1="226.4" x2="562.5" y2="226.4" stroke="#12121a" stroke-width="1" shape-rendering="crispEdges"/>
<line x1="562.5" y1="231" x2="573.6" y2="238.4" stroke="#12121a" stroke-width="1.1"/>
<line x1="573.6" y1="238" x2="573.6" y2="273" stroke="#08083e" stroke-width="1" shape-rendering="crispEdges"/>
<polygon points="573.4,238.7 567.3000000000001,238.0 570.6,232.2" fill="#1a1ad0" stroke="#1a1ad0" stroke-width="0.6" stroke-linejoin="round"/>
<rect x="568.5" y="224.5" width="6" height="5" fill="none" stroke="#0c0c0c" stroke-width="1.4"/>
<path d="M568.5 227H574.5M571.5 224.5V229.5" stroke="#0c0c0c" stroke-width="1.2" fill="none"/>
<text x="578.1" y="223" fill="#0c0c0c" stroke="#0c0c0c" stroke-width="0.36" font-size="10" text-anchor="start" textLength="10" lengthAdjust="spacingAndGlyphs">Q3</text>
<text x="577.0" y="234.5" fill="#0c0c0c" stroke="#0c0c0c" stroke-width="0.36" font-size="10" text-anchor="start" textLength="19.4" lengthAdjust="spacingAndGlyphs">8550</text>
<text x="516.3" y="223.6" fill="#5c0a0a" stroke="#5c0a0a" stroke-width="0.36" font-size="10" text-anchor="start" textLength="18.2" lengthAdjust="spacingAndGlyphs">RED</text>
<text x="547.3" y="223.4" fill="#0c0c0c" stroke="#0c0c0c" stroke-width="0.36" font-size="10" text-anchor="start">1</text>
<text transform="translate(569.0,207) rotate(-90)" fill="#0c0c0c" stroke="#0c0c0c" stroke-width="0.36" font-size="11" textLength="5.4" lengthAdjust="spacingAndGlyphs">3</text>
<text transform="translate(569.0,252.6) rotate(-90)" fill="#0c0c0c" stroke="#0c0c0c" stroke-width="0.36" font-size="11" textLength="5.4" lengthAdjust="spacingAndGlyphs">2</text>
<line x1="377" y1="273" x2="573.6" y2="273" stroke="#08083e" stroke-width="1" shape-rendering="crispEdges"/>
<circle cx="469.3" cy="273" r="2.6" fill="#08083e"/>
<line x1="469.3" y1="273" x2="469.3" y2="283.75" stroke="#12121a" stroke-width="1" shape-rendering="crispEdges"/>
<line x1="458.3" y1="283.75" x2="480.7" y2="283.75" stroke="#301c08" stroke-width="1" shape-rendering="crispEdges"/>
<line x1="461.8" y1="287.95" x2="477.2" y2="287.95" stroke="#301c08" stroke-width="1" shape-rendering="crispEdges"/>
<line x1="465.3" y1="291.15" x2="473.7" y2="291.15" stroke="#301c08" stroke-width="1" shape-rendering="crispEdges"/>
<line x1="468.6" y1="294.55" x2="470.4" y2="294.55" stroke="#301c08" stroke-width="1" shape-rendering="crispEdges"/>
<text x="460.8" y="305.8" fill="#5c0a0a" stroke="#5c0a0a" stroke-width="0.36" font-size="10" text-anchor="start" textLength="19.2" lengthAdjust="spacingAndGlyphs">GND</text>
</svg></body></html>
